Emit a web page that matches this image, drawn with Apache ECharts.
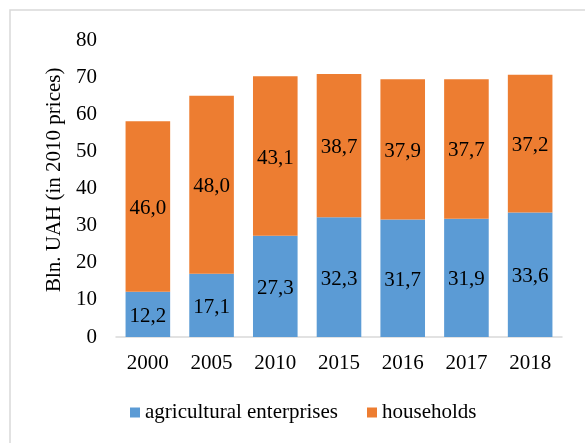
<!DOCTYPE html>
<html>
<head>
<meta charset="utf-8">
<script src="https://cdn.jsdelivr.net/npm/echarts@6/dist/echarts.min.js"></script>
<style>
  html, body { margin: 0; padding: 0; background: #fff; }
  #chart { width: 585px; height: 443px; }
</style>
</head>
<body>
<div id="chart"></div>
<script>
// Gross agricultural output by producer type, bln. UAH in 2010 prices
const years = ['2000', '2005', '2010', '2015', '2016', '2017', '2018'];
const enterprises = [12.2, 17.1, 27.3, 32.3, 31.7, 31.9, 33.6];
const households = [46.0, 48.0, 43.1, 38.7, 37.9, 37.7, 37.2];
const seriesNames = ['agricultural enterprises', 'households'];
const yTicks = { min: 0, max: 80, interval: 10 };

const FONT = '"Liberation Serif", "Times New Roman", serif';
const FS = 21;
const fmt = p => p.value.toFixed(1).replace('.', ',');

const chart = echarts.init(document.getElementById('chart'), null, { renderer: 'canvas' });

const valueLabel = {
  show: true,
  position: 'inside',
  offset: [0, 2],
  formatter: fmt,
  fontFamily: FONT,
  fontSize: FS,
  color: '#000'
};

chart.setOption({
  animation: false,
  backgroundColor: '#ffffff',
  textStyle: { fontFamily: FONT, color: '#000' },
  graphic: [{
    type: 'rect',
    shape: { x: 10, y: 10, width: 620, height: 500 },
    style: { fill: 'none', stroke: '#d9d9d9', lineWidth: 1.5 },
    silent: true,
    z: -1
  }],
  grid: { left: 116, right: 23, top: 40.6, bottom: 106 },
  legend: {
    top: 397,
    left: 125,
    itemWidth: 10,
    itemHeight: 10,
    itemGap: 29,
    icon: 'rect',
    textStyle: { fontFamily: FONT, fontSize: FS, color: '#000' },
    data: seriesNames
  },
  xAxis: {
    type: 'category',
    data: years,
    axisLine: { lineStyle: { color: '#d9d9d9', width: 1.5 } },
    axisTick: { show: false },
    axisLabel: { fontFamily: FONT, fontSize: FS, color: '#000', margin: 16 }
  },
  yAxis: {
    type: 'value',
    min: yTicks.min,
    max: yTicks.max,
    interval: yTicks.interval,
    name: 'Bln. UAH (in 2010 prices)',
    nameLocation: 'middle',
    nameRotate: 90,
    nameGap: 44.5,
    nameTextStyle: { fontFamily: FONT, fontSize: FS, color: '#000', padding: [0, 0, 0, 18] },
    axisLine: { show: false },
    axisTick: { show: false },
    splitLine: { show: false },
    axisLabel: { fontFamily: FONT, fontSize: FS, color: '#000', margin: 19 }
  },
  series: [
    {
      name: seriesNames[0],
      type: 'bar',
      stack: 'total',
      data: enterprises,
      barWidth: '70%',
      itemStyle: { color: '#5b9bd5' },
      label: valueLabel
    },
    {
      name: seriesNames[1],
      type: 'bar',
      stack: 'total',
      data: households,
      barWidth: '70%',
      itemStyle: { color: '#ed7d31' },
      label: valueLabel
    }
  ]
});
</script>
</body>
</html>
